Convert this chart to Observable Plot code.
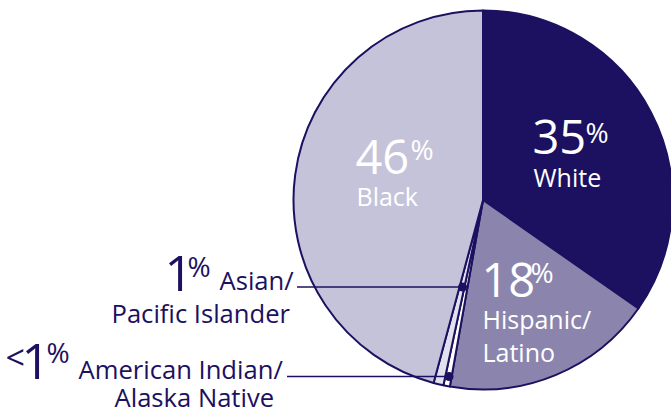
<!DOCTYPE html>
<html><head><meta charset="utf-8">
<script src="https://cdn.jsdelivr.net/npm/d3@7"></script>
<script src="https://cdn.jsdelivr.net/npm/@observablehq/plot@0.6"></script>
<style>body{margin:0;background:#fff;}</style>
</head><body><div id="chart"></div>
<script>
// ---- data ----
const groups = ["White", "Hispanic/Latino", "American Indian/Alaska Native", "Asian/Pacific Islander", "Black"];
const shares = [34.7, 18.1, 0.55, 0.85, 45.8];
const shareLabels = ["35", "18", "1", "1", "46"];
const prefixLabels = ["", "", "<", "", ""];
const nameLines = [["White"], ["Hispanic/", "Latino"], ["American Indian/", "Alaska Native"], ["Asian/", "Pacific Islander"], ["Black"]];
const sliceColors = ["#1c1060", "#8b85ae", "#ffffff", "#e2e0ee", "#c5c3d9"];

// ---- layout ----
const W = 671, H = 417;
const cx = 483, cy = 200, R = 189.5;
const ink = "#1c1060";
const font = "'Open Sans', sans-serif";

const rows = groups.map((g, i) => ({group: g, share: shares[i], color: sliceColors[i]}));
const arcs = d3.pie().sort(null).value(d => d.share)(rows);

// label placement (positions only)
const place = {
  "White": {x: 532, num: 153.5, pct: [585, 142.5], lines: [186]},
  "Hispanic/Latino": {x: 481, num: 296.5, pct: [530, 282.5], lines: [328, 361.5]},
  "Black": {x: 355, num: 173, pct: [410, 159.5], lines: [205]},
  "Asian/Pacific Islander": {x: 164, num: 290.5, pct: [187, 276], lines: [[219, 289], [111, 322]], leader: [297, 286.5]},
  "American Indian/Alaska Native": {x: 21, num: 378, pre: [5, 369.5], pct: [46, 362.5], lines: [[78, 378], [114, 406.5]], leader: [287, 376]}
};

const whiteText = [], darkText = [], leaders = [], dots = [];
arcs.forEach((a, i) => {
  const g = groups[i], p = place[g];
  const inside = !p.leader;
  const bucket = inside ? whiteText : darkText;
  bucket.push({x: p.x, y: p.num, text: shareLabels[i], size: inside ? 47 : 50, w: inside ? 400 : 500});
  bucket.push({x: p.pct[0], y: p.pct[1], text: "%", size: 28, w: 400});
  if (prefixLabels[i]) bucket.push({x: p.pre[0], y: p.pre[1], text: prefixLabels[i], size: 34, w: 400});
  nameLines[i].forEach((t, j) => {
    const l = p.lines[j];
    if (Array.isArray(l)) bucket.push({x: l[0], y: l[1], text: t, size: 25.6, w: 400});
    else bucket.push({x: p.x + 1, y: l, text: t, size: 25, w: 400});
  });
  if (p.leader) {
    const mid = (a.startAngle + a.endAngle) / 2;
    const ly = p.leader[1];
    const dx = cx + (cy - ly) * Math.tan(mid);
    leaders.push({x1: p.leader[0], x2: dx, y: ly});
    dots.push({x: dx, y: ly});
  }
});

const pieMark = (index, scales) => {
  const px = scales.x(cx), py = scales.y(cy);
  const rr = scales.x(cx + R) - px;
  const arcGen = d3.arc().innerRadius(0).outerRadius(rr);
  const g = d3.create("svg:g").attr("transform", `translate(${px},${py})`);
  g.selectAll("path").data(arcs).join("path")
    .attr("d", arcGen)
    .attr("fill", d => d.data.color)
    .attr("stroke", ink)
    .attr("stroke-width", 2)
    .attr("stroke-linejoin", "round");
  return g.node();
};

const textMarks = (data, fill) => [400, 500].map(wt =>
  Plot.text(data.filter(d => d.w === wt), {x: "x", y: "y", text: "text", fontSize: "size", fill, textAnchor: "start", lineAnchor: "bottom", fontFamily: font, fontWeight: wt})
);

const chart = Plot.plot({
  width: W, height: H, margin: 0,
  style: {fontFamily: font, background: "#fff"},
  x: {domain: [0, W], range: [0, W], axis: null},
  y: {domain: [0, H], range: [0, H], axis: null},
  marks: [
    pieMark,
    Plot.ruleY(leaders, {y: "y", x1: "x1", x2: "x2", stroke: ink, strokeWidth: 1.6}),
    Plot.dot(dots, {x: "x", y: "y", r: 4.5, fill: ink, stroke: "none"}),
    ...textMarks(whiteText, "#fff"),
    ...textMarks(darkText, ink)
  ]
});
document.getElementById("chart").appendChild(chart);
</script>
</body></html>
